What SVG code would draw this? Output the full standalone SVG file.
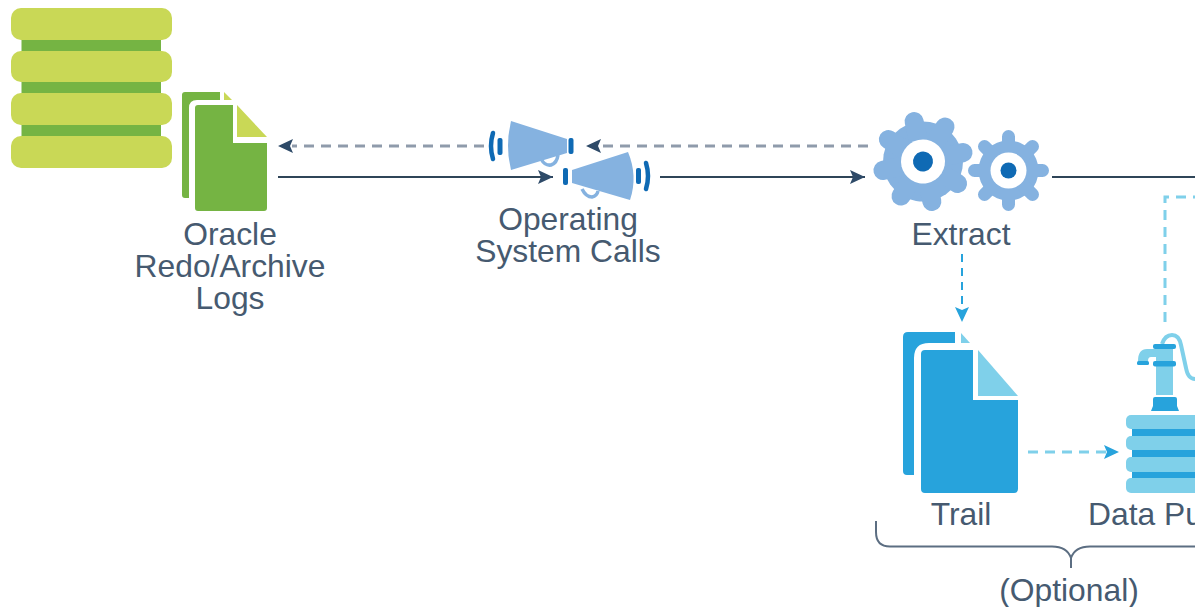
<svg xmlns="http://www.w3.org/2000/svg" width="1195" height="607" viewBox="0 0 1195 607">
<style>
text{font-family:"Liberation Sans",Arial,sans-serif;font-size:31.8px;fill:#465a70;text-anchor:middle}
.lime{fill:#c9d856}.green{fill:#75b443}
.mega{fill:#85b2e0}.mbar{fill:#0f6ab4}
.mout{fill:none;stroke:#0f6ab4;stroke-width:4.5;stroke-linecap:round}
.handle{fill:none;stroke:#85b2e0;stroke-width:3.5}
.gear{stroke:#85b2e0;stroke-linecap:round;fill:none}
.cy{fill:#27a3dc}.cyl{fill:#7fd0ea}
.solid{fill:none;stroke:#2f4558;stroke-width:2}
.dgray{fill:none;stroke:#8f9bab;stroke-width:3;stroke-dasharray:10 7}
.dcy{fill:none;stroke:#27a3dc;stroke-width:2;stroke-dasharray:8 6}
.dcyl{fill:none;stroke:#7fd0ea;stroke-width:3;stroke-dasharray:10 7}
.brace{fill:none;stroke:#5c6e82;stroke-width:2}
.tip{fill:none;stroke:none}
</style>
<defs>
<marker id="ah" markerUnits="userSpaceOnUse" markerWidth="18" markerHeight="16" refX="16" refY="8" orient="auto"><path d="M1 1L16 8L1 15L4 8Z" fill="#2e4a68"/></marker>
<marker id="ac" markerUnits="userSpaceOnUse" markerWidth="18" markerHeight="16" refX="16" refY="8" orient="auto"><path d="M1 1L16 8L1 15L4 8Z" fill="#27a3dc"/></marker>
</defs>
<g id="connectors">
<path class="dgray" d="M868 146H600"/>
<path class="tip" d="M600 146H586" marker-end="url(#ah)"/>
<path class="dgray" d="M484 146H292"/>
<path class="tip" d="M292 146H278" marker-end="url(#ah)"/>
<path class="solid" d="M278 177H553" marker-end="url(#ah)"/>
<path class="solid" d="M660 177H865" marker-end="url(#ah)"/>
<path class="solid" d="M1052 177H1195"/>
<path class="dcy" d="M962 254V322" marker-end="url(#ac)"/>
<path class="dcyl" d="M1028 452H1106"/>
<path class="tip" d="M1105 452H1119" marker-end="url(#ac)"/>
<path class="dcyl" d="M1165 322V197H1195"/>
</g>
<g id="database">
<rect class="green" x="21.500" y="38" width="139.500" height="100"/>
<rect class="lime" x="11" y="8" width="161" height="32" rx="10"/>
<rect class="lime" x="11" y="51" width="161" height="31" rx="10"/>
<rect class="lime" x="11" y="93" width="161" height="32" rx="10"/>
<rect class="lime" x="11" y="136" width="161" height="32" rx="10"/>
</g>
<g id="logs">
<path class="green" d="M220 92H185Q182 92 182 95V195Q182 198 185 198H189V108Q189 100 197 100H220Z"/>
<path class="lime" d="M224 92L232 100H224Z"/>
<path class="green" d="M198 105H233V143H267V208Q267 211 264 211H198Q195 211 195 208V108Q195 105 198 105Z"/>
<path class="lime" d="M237 105L267 137H237Z"/>
<text x="230" y="245">Oracle</text>
<text x="230" y="277">Redo/Archive</text>
<text x="230" y="309">Logs</text>
</g>
<g id="os-calls">
<path class="handle" d="M541 159Q545 166 551 165Q557 163 558 155"/>
<path class="mega" d="M511 121L567 139V153L511 170Q505 146 511 121Z"/>
<rect class="mbar" x="568.500" y="138" width="5" height="16" rx="2"/>
<rect class="mbar" x="497.500" y="138" width="5" height="17" rx="2"/>
<path class="mout" d="M493 133Q489 146 493 159"/>
<path class="handle" d="M582 189Q586 197 592 197Q597 196 598 191"/>
<path class="mega" d="M572 170L628 152Q638 176 630 200L572 183Z"/>
<rect class="mbar" x="563" y="168" width="5" height="17" rx="2"/>
<rect class="mbar" x="636" y="168" width="5" height="16" rx="2"/>
<path class="mout" d="M646 163Q650 176 646 189"/>
<text x="568" y="230">Operating</text>
<text x="568" y="262">System Calls</text>
</g>
<g id="extract">
<g transform="translate(923 161.500) rotate(-12.500)">
<circle r="40" fill="#85b2e0"/>
<g class="gear" stroke-width="19">
<path d="M0 0V-41M0 0V41M0 0H41M0 0H-41M0 0L29 -29M0 0L-29 29M0 0L29 29M0 0L-29 -29"/>
</g>
<circle r="22" fill="#fff"/>
<circle r="10" fill="#0f6ab4"/>
</g>
<g transform="translate(1008.500 170.500)">
<circle r="30" fill="#85b2e0"/>
<g class="gear" stroke-width="13">
<path d="M0 0V-34M0 0V34M0 0H34M0 0H-34M0 0L24 -24M0 0L-24 24M0 0L24 24M0 0L-24 -24"/>
</g>
<circle r="18" fill="#fff"/>
<circle r="8" fill="#0f6ab4"/>
</g>
<text x="961" y="245">Extract</text>
</g>
<g id="trail">
<path class="cy" d="M955 332H908Q903 332 903 337V471Q903 475 907 475H914V358Q914 343 929 343H955Z"/>
<path class="cyl" d="M961 333L970 343H961Z"/>
<path class="cy" d="M925 350H973V400H1018V489Q1018 493 1014 493H925Q921 493 921 489V354Q921 350 925 350Z"/>
<path class="cyl" d="M978 350L1018 396H978Z"/>
<text x="961" y="525">Trail</text>
</g>
<g id="data-pump">
<rect class="cy" x="1132" y="425" width="70" height="56"/>
<rect class="cyl" x="1126" y="415" width="80" height="14" rx="5"/>
<rect class="cyl" x="1126" y="436" width="80" height="14" rx="5"/>
<rect class="cyl" x="1126" y="457" width="80" height="15" rx="5"/>
<rect class="cyl" x="1126" y="478" width="80" height="15" rx="5"/>
<rect class="cyl" x="1156" y="346" width="17" height="49"/>
<path class="cyl" d="M1157 349H1147Q1138 349 1138 361H1148Q1148 357 1151 357H1157Z"/>
<rect class="cy" x="1137" y="361" width="12" height="4" rx="1.500"/>
<path fill="none" stroke="#7fd0ea" stroke-width="4" d="M1162 344Q1165 335 1172 335Q1179 335 1181 345L1186 368Q1188 379 1195 379"/>
<rect class="cy" x="1153" y="344" width="23" height="5" rx="2"/>
<rect class="cy" x="1153" y="361" width="23" height="5.500" rx="2"/>
<path class="cy" d="M1155 397H1175Q1177 397 1177 399V406L1179 411H1151L1153 406V399Q1153 397 1155 397Z"/>
<text x="1088" y="525" style="text-anchor:start">Data Pu</text>
</g>
<g id="optional">
<path class="brace" d="M876 521V532Q876 546.500 890 546.500H1052Q1067 546.500 1071 558V568M1071 558Q1075 546.500 1090 546.500H1195"/>
<text x="1069" y="601">(Optional)</text>
</g>
</svg>
